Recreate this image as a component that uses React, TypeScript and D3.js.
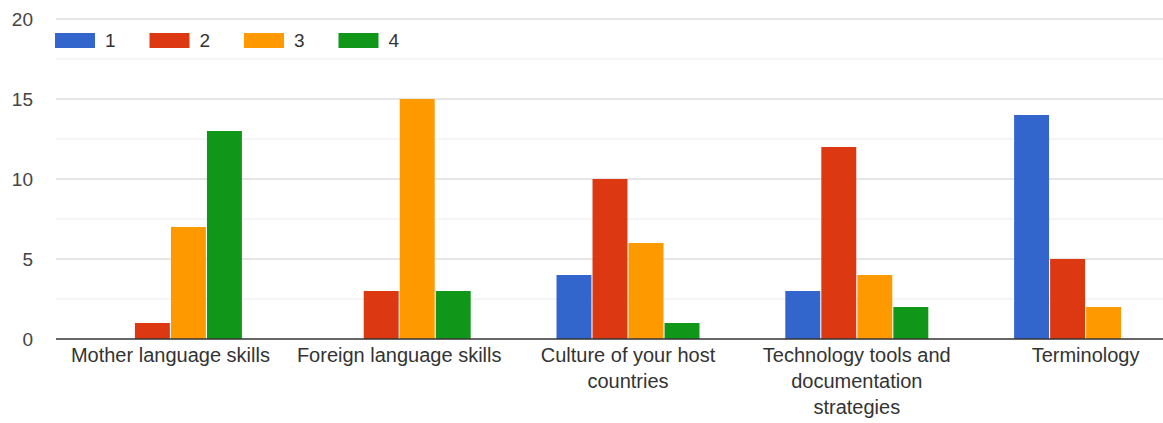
import React from "react";
import * as d3 from "d3";

const categories = [
  ["Mother language skills"],
  ["Foreign language skills"],
  ["Culture of your host", "countries"],
  ["Technology tools and", "documentation", "strategies"],
  ["Terminology"],
];
const seriesNames = ["1", "2", "3", "4"];
const seriesColors = ["#3366cc", "#dc3912", "#ff9900", "#109618"];
const values1 = [0, 0, 4, 3, 14];
const values2 = [1, 3, 10, 12, 5];
const values3 = [7, 15, 6, 4, 2];
const values4 = [13, 3, 1, 2, 0];
const yTicks = [0, 5, 10, 15, 20];
const minorTicks = [2.5, 7.5, 12.5, 17.5];

const W = 1163;
const H = 423;

export default function App() {
  const series = [values1, values2, values3, values4];
  const y = d3.scaleLinear().domain([0, 20]).range([339, 19]);
  const x0 = d3
    .scaleBand<number>()
    .domain(categories.map((_, i) => i))
    .range([56, 1200])
    .paddingInner(0.375)
    .paddingOuter(0.1875);
  const x1 = d3
    .scaleBand<number>()
    .domain(seriesNames.map((_, i) => i))
    .range([0, x0.bandwidth()])
    .paddingInner(0.03);
  const font = "Arial, 'Liberation Sans', sans-serif";
  return (
    <svg
      width={W}
      height={H}
      style={{ position: "absolute", left: 0, top: 0, background: "#fff" }}
      fontFamily={font}
    >
      {minorTicks.map((t) => (
        <line key={"m" + t} x1={56} x2={W} y1={y(t)} y2={y(t)} stroke="#ebebeb" strokeWidth={1} />
      ))}
      {yTicks.map((t) => (
        <g key={"t" + t}>
          {t > 0 && <line x1={56} x2={W} y1={y(t)} y2={y(t)} stroke="#cccccc" strokeWidth={1} />}
          <text x={33} y={y(t)} dy="0.36em" textAnchor="end" fontSize={19} fill="#444">
            {t}
          </text>
        </g>
      ))}
      {categories.map((_, ci) =>
        series.map((vals, si) =>
          vals[ci] > 0 ? (
            <rect
              key={ci + "-" + si}
              x={(x0(ci) as number) + (x1(si) as number)}
              y={y(vals[ci])}
              width={x1.bandwidth()}
              height={y(0) - y(vals[ci])}
              fill={seriesColors[si]}
            />
          ) : null
        )
      )}
      <line x1={56} x2={W} y1={y(0)} y2={y(0)} stroke="#333" strokeWidth={1.5} />
      {categories.map((lines, ci) => (
        <text
          key={"c" + ci}
          x={(x0(ci) as number) + x0.bandwidth() / 2}
          y={362}
          textAnchor="middle"
          fontSize={20}
          fill="#333"
        >
          {lines.map((l, li) => (
            <tspan key={li} x={(x0(ci) as number) + x0.bandwidth() / 2} dy={li === 0 ? 0 : 26}>
              {l}
            </tspan>
          ))}
        </text>
      ))}
      {seriesNames.map((n, i) => (
        <g key={"l" + n} transform={`translate(${55 + i * 94.5},33)`}>
          <rect x={0} y={0} width={40} height={15} fill={seriesColors[i]} />
          <text x={50} y={7.5} dy="0.36em" fontSize={19} fill="#333">
            {n}
          </text>
        </g>
      ))}
    </svg>
  );
}
